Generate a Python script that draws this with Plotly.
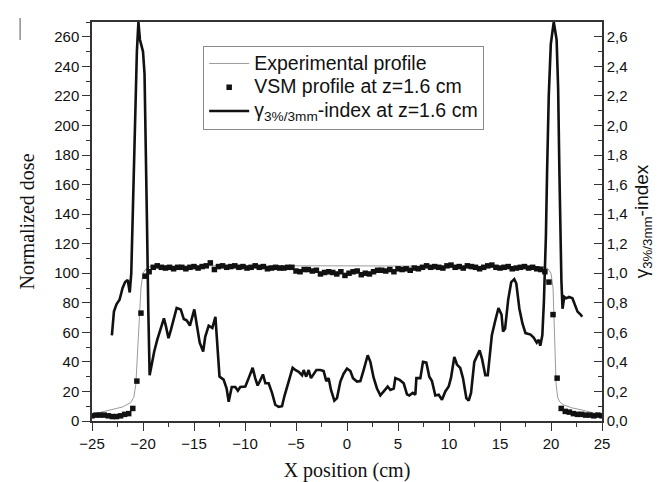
import plotly.graph_objects as go

# ---------------- data ----------------
# Experimental profile (thin gray line)
exp_x = [-25, -24, -23, -22, -21.2, -20.9, -20.7, -20.55, -20.4, -20.2, -20.0, -19.7, -19.3, -18.0,
         0, 18.0, 19.3, 19.7, 20.0, 20.2, 20.35, 20.5, 20.65, 20.85, 21.2, 22, 23, 24, 25]
exp_dose = [4.5, 6.0, 7.5, 9.5, 12.5, 16, 25, 45, 70, 90, 100, 103, 104.5, 105,
            105, 105, 104.5, 103, 100, 90, 60, 25, 16, 13, 11, 9.0, 7.5, 6.0, 4.0]

# VSM profile at z=1.6 cm (square markers)
vsm_x = [-25.0, -24.6, -24.2, -23.8, -23.4, -23.0, -22.6, -22.2, -21.8, -21.4, -21.0,
         -20.6, -20.2, -19.8, -19.4, -19.0, -18.6, -18.2, -17.8, -17.4, -17.0,
         -16.6, -16.2, -15.8, -15.4, -15.0, -14.6, -14.2, -13.8, -13.4, -13.0,
         -12.6, -12.2, -11.8, -11.4, -11.0, -10.6, -10.2, -9.8, -9.4, -9.0,
         -8.6, -8.2, -7.8, -7.4, -7.0, -6.6, -6.2, -5.8, -5.4, -5.0,
         -4.6, -4.2, -3.8, -3.4, -3.0, -2.6, -2.2, -1.8, -1.4, -1.0,
         -0.6, -0.2, 0.2, 0.6, 1.0, 1.4, 1.8, 2.2, 2.6, 3.0,
         3.4, 3.8, 4.2, 4.6, 5.0, 5.4, 5.8, 6.2, 6.6, 7.0,
         7.4, 7.8, 8.2, 8.6, 9.0, 9.4, 9.8, 10.2, 10.6, 11.0,
         11.4, 11.8, 12.2, 12.6, 13.0, 13.4, 13.8, 14.2, 14.6, 15.0,
         15.4, 15.8, 16.2, 16.6, 17.0, 17.4, 17.8, 18.2, 18.6, 19.0,
         19.4, 19.8, 20.2, 20.6, 21.0, 21.4, 21.8, 22.2, 22.6, 23.0,
         23.4, 23.8, 24.2, 24.6, 25.0]
vsm_dose = [3.5, 4.0, 4.0, 4.0, 3.5, 3.0, 3.0, 3.5, 4.5, 5.0, 8.5,
            27, 73, 98, 101, 104, 105, 104, 103.5, 104, 103,
            104, 104, 103, 104, 104.5, 103.5, 104.5, 105, 107, 102.5,
            104.5, 105, 104, 104.5, 105, 104, 104.5, 103.5, 104, 105,
            104, 104.5, 103, 103.5, 104, 103.5, 103.5, 104, 104, 101.5,
            101, 102.5, 102.5, 101.5, 102, 99.5, 100.5, 101, 100.5, 99.5,
            101, 98.5, 100, 101, 101.5, 99, 100, 99.5, 101, 102,
            102, 101.5, 102.5, 101, 103, 102.5, 103, 102, 103.5, 103,
            104, 105, 104, 104.5, 104, 103.5, 105, 105.5, 104, 104.5,
            103.5, 105, 104.5, 104, 103, 104, 105, 105.5, 104, 103.5,
            104, 104.5, 103, 103.5, 104, 104.5, 103.5, 104, 103, 102.5,
            101, 94, 72, 29, 8.5, 6.5, 6.0, 5.0, 4.5, 4.5,
            4.0, 4.0, 3.5, 4.0, 3.5]

# gamma(3%/3mm)-index at z=1.6 cm (thick black line, right axis)
gam_x = [-23.05, -22.85, -22.6, -22.3, -22.0, -21.75, -21.5, -21.3, -21.15, -21.05,
         -20.9, -20.75, -20.6, -20.45, -20.3, -20.15, -20.0, -19.85, -19.72, -19.6,
         -19.48, -19.35, -19.15, -18.9, -18.6, -18.3, -17.95, -17.75, -17.5, -17.25,
         -17.0, -16.7, -16.3, -16.0, -15.7, -15.4, -14.97, -14.7, -14.44, -14.1,
         -13.9, -13.56, -13.2, -12.9, -12.75, -12.5, -12.1, -11.8, -11.6, -11.3,
         -10.95, -10.7, -10.46, -9.97, -9.64, -9.25, -9.0, -8.76, -8.56, -8.24,
         -8.0, -7.68, -7.35, -7.03, -6.7, -6.37, -6.14, -5.9, -5.56, -5.33,
         -5.07, -4.74, -4.4, -4.25, -4.0, -3.76, -3.53, -3.27, -3.0, -2.6,
         -2.29, -2.03, -1.8, -1.57, -1.24, -0.98, -0.65, -0.33, 0.0, 0.33,
         0.59, 0.98, 1.31, 1.63, 2.03, 2.29, 2.61, 2.94, 3.27, 3.6,
         3.99, 4.25, 4.58, 4.74, 5.16, 5.56, 5.88, 6.1, 6.44, 6.7,
         6.8, 7.19, 7.45, 7.78, 8.07, 8.33, 8.66, 8.99, 9.31, 9.64,
         9.97, 10.2, 10.52, 10.78, 11.1, 11.37, 11.7, 11.93, 12.16, 12.48,
         12.75, 13.0, 13.24, 13.56, 13.8, 14.2, 14.54, 14.85, 15.15, 15.3,
         15.5, 15.8, 16.1, 16.4, 16.6, 16.9, 17.2, 17.5, 18.0, 18.3,
         18.6, 18.8, 18.95, 19.15, 19.3, 19.4, 19.5, 19.62, 19.78, 19.98,
         20.27, 20.55, 20.7, 20.82, 20.92, 21.02, 21.13, 21.3, 21.5, 21.77,
         22.1, 22.4, 22.6, 22.9, 23.06]
gam_val = [0.58, 0.74, 0.79, 0.82, 0.90, 0.94, 0.955, 0.87, 1.0, 1.3,
           1.8, 2.2, 2.5, 2.7, 2.58, 2.54, 2.5, 2.35, 1.9, 1.3,
           0.75, 0.31, 0.38, 0.47, 0.55, 0.62, 0.695, 0.64, 0.56, 0.62,
           0.69, 0.765, 0.755, 0.69, 0.68, 0.645, 0.755, 0.645, 0.53, 0.47,
           0.57, 0.645, 0.63, 0.705, 0.53, 0.30, 0.28, 0.22, 0.13, 0.23,
           0.23, 0.205, 0.23, 0.233, 0.29, 0.36, 0.29, 0.24, 0.267, 0.315,
           0.255, 0.255, 0.19, 0.11, 0.096, 0.10, 0.167, 0.22, 0.30, 0.36,
           0.345, 0.333, 0.31, 0.345, 0.30, 0.345, 0.29, 0.32, 0.345, 0.345,
           0.338, 0.27, 0.29, 0.21, 0.138, 0.155, 0.267, 0.32, 0.355, 0.338,
           0.29, 0.267, 0.27, 0.345, 0.445, 0.40, 0.293, 0.22, 0.173, 0.20,
           0.233, 0.21, 0.22, 0.29, 0.278, 0.255, 0.18, 0.173, 0.19, 0.178,
           0.29, 0.29, 0.40, 0.395, 0.30, 0.27, 0.173, 0.178, 0.144, 0.20,
           0.233, 0.293, 0.433, 0.382, 0.36, 0.29, 0.155, 0.138, 0.19, 0.40,
           0.445, 0.478, 0.42, 0.31, 0.31, 0.58, 0.68, 0.765, 0.72, 0.605,
           0.625, 0.82, 0.94, 0.96, 0.93, 0.76, 0.66, 0.595, 0.585, 0.565,
           0.53, 0.55, 0.51, 0.58, 0.8, 1.0, 1.25, 1.7, 2.2, 2.55,
           2.7, 2.58, 2.25, 1.7, 1.25, 0.95, 0.76, 0.84, 0.83, 0.84,
           0.83, 0.77, 0.74, 0.72, 0.705]

x_ticks = [-25, -20, -15, -10, -5, 0, 5, 10, 15, 20, 25]

series_names = ["Experimental profile",
                "VSM profile at z=1.6 cm",
                "γ<sub>3%/3mm</sub>-index at z=1.6 cm"]

# ---------------- figure ----------------
SANS = "Liberation Sans, Arial, sans-serif"
SERIF = "Liberation Serif, Times New Roman, serif"
AX = "#333333"


def legend_label(s):
    # larger glyphs than the legend's nominal font size, so rows stay tight
    return '<span style="font-size:19.5px">' + s + '</span>'


fig = go.Figure()
fig.add_trace(go.Scatter(x=exp_x, y=exp_dose, mode="lines", name=legend_label(series_names[0]),
                         line=dict(color="#9a9a9a", width=1), yaxis="y"))
fig.add_trace(go.Scatter(x=vsm_x, y=vsm_dose, mode="markers", name=legend_label(series_names[1]),
                         marker=dict(symbol="square", size=5.5, color="#111111"), yaxis="y"))
fig.add_trace(go.Scatter(x=gam_x, y=gam_val, mode="lines", name=legend_label(series_names[2]),
                         line=dict(color="#111111", width=2.6), yaxis="y2"))

# thin stray vertical stroke at the top-left corner of the scanned figure
fig.add_shape(type="line", xref="paper", yref="paper",
              x0=-0.141, x1=-0.141, y0=1.01, y1=0.955,
              line=dict(color="#555555", width=1))

fig.update_layout(
    width=666, height=482,
    margin=dict(l=84, r=72, t=14, b=62),
    paper_bgcolor="white", plot_bgcolor="white",
    separators=", ",
    showlegend=True,
    legend=dict(x=0.218, y=0.941, xanchor="left", yanchor="top",
                bgcolor="white", bordercolor="#8a8a8a", borderwidth=1,
                font=dict(family=SANS, size=16, color="#111"),
                tracegroupgap=0, itemwidth=40),
    xaxis=dict(range=[-25, 25], tickvals=x_ticks, ticks="outside", ticklen=8, tickwidth=1.3,
               tickcolor=AX, showline=True, linecolor=AX, linewidth=1.5, mirror=True,
               showgrid=False, zeroline=False,
               minor=dict(dtick=2.5, tick0=0, ticks="outside", ticklen=4, tickcolor=AX, showgrid=False),
               tickfont=dict(family=SANS, size=15, color="#111"),
               title=dict(text="X position (cm)", font=dict(family=SERIF, size=20, color="#111"),
                          standoff=12)),
    yaxis=dict(range=[0, 270], dtick=20, tick0=0, ticks="outside", ticklen=8, tickwidth=1.3,
               tickcolor=AX, showline=True, linecolor=AX, linewidth=1.5,
               showgrid=False, zeroline=False,
               minor=dict(dtick=10, tick0=0, ticks="outside", ticklen=4, tickcolor=AX, showgrid=False),
               tickfont=dict(family=SANS, size=15, color="#111"),
               title=dict(text="Normalized dose", font=dict(family=SERIF, size=20, color="#111"),
                          standoff=14)),
    yaxis2=dict(range=[0, 2.7], dtick=0.2, tick0=0, tickformat=".1f", overlaying="y", side="right",
                ticks="inside", ticklen=8, tickwidth=1.3, tickcolor=AX,
                showline=True, linecolor=AX, linewidth=1.5, showgrid=False, zeroline=False,
                minor=dict(dtick=0.1, tick0=0, ticks="inside", ticklen=4, tickcolor=AX, showgrid=False),
                tickfont=dict(family=SANS, size=15, color="#111"),
                title=dict(text="γ<sub>3%/3mm</sub>-index", font=dict(family=SANS, size=19, color="#111"),
                           standoff=8)),
)

fig.write_html("out.html")
